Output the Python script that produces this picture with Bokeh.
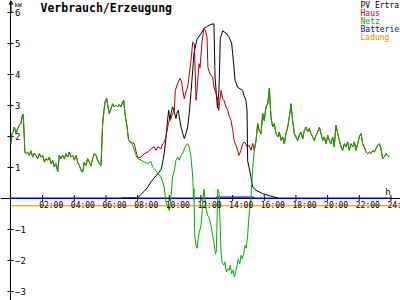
import math
from bokeh.plotting import figure
from bokeh.models import Range1d, FixedTicker, Label, Arrow, OpenHead
from bokeh.core.properties import value
from bokeh.embed import file_html
from bokeh.resources import INLINE

# ---------------- data (hours, kW) ----------------
night_am_t = [0.00,0.06,0.13,0.21,0.32,0.42,0.53,0.63,0.69,0.76,0.80,0.88,0.95,1.05,1.16,1.26,1.37,1.47,1.58,1.68,
              1.79,1.90,2.00,2.11,2.21,2.32,2.42,2.53,2.63,2.74,2.84,2.95,3.05,3.16,3.26,3.37,3.47,3.58,3.68,3.79,
              3.90,4.00,4.11,4.21,4.32,4.42,4.53,4.63,4.74,4.84,4.95,5.05,5.16,5.26,5.37,5.47,5.58,5.69,5.75,5.79,
              5.85,5.94,6.00,6.04,6.11,6.21,6.32,6.42,6.53,6.63,6.74,6.84,6.95,7.05,7.12,7.20,7.33,7.43,7.58]
night_am_v = [1.75,2.08,2.13,2.29,2.08,2.24,2.35,2.40,2.61,2.70,2.40,1.47,1.43,1.48,1.38,1.52,1.32,1.45,1.38,1.27,
              1.43,1.32,1.38,1.16,1.27,1.22,1.32,1.11,1.22,1.00,1.11,0.84,1.38,1.27,1.38,1.27,1.43,1.32,1.48,1.32,
              1.38,1.22,1.38,1.16,1.05,0.89,0.84,1.16,1.05,1.27,1.16,1.05,1.27,1.43,1.38,1.22,1.11,1.05,1.86,2.40,
              2.72,3.10,3.15,3.22,2.99,2.72,2.88,3.04,2.94,3.00,2.94,3.02,2.94,3.10,3.15,2.72,2.29,1.86,1.79]

netz_day_t = [7.69,7.79,7.90,8.00,8.21,8.42,8.64,8.84,8.95,9.05,9.27,9.48,9.68,9.79,9.90,10.00,10.06,10.11,10.21,10.32,
              10.42,10.53,10.63,10.74,10.85,10.95,11.05,11.16,11.26,11.37,11.48,11.54,11.56,11.60,11.69,11.75,11.83,11.90,12.00,12.06,
              12.11,12.19,12.32,12.43,12.53,12.63,12.74,12.85,12.91,12.97,13.06,13.14,13.27,13.33,13.44,13.52,13.60,13.69,13.79,13.85,
              13.94,14.02,14.11,14.19,14.28,14.36,14.45,14.53,14.61,14.70,14.78,14.86,14.95,15.02,15.08,15.16,15.27]
netz_day_v = [1.70,1.54,1.38,1.27,1.22,1.16,1.11,1.18,1.00,0.95,0.79,0.68,0.35,-0.13,-0.29,-0.40,-0.20,0.05,0.68,0.89,
              1.22,1.32,1.22,1.38,1.43,1.59,1.70,1.75,1.65,1.32,0.68,-0.07,0.30,-1.20,-1.53,-1.62,-1.30,-1.10,-0.88,-0.56,
              -0.13,0.28,-0.35,-0.56,-0.66,-0.88,-1.20,-1.53,-1.80,-1.74,0.28,0.20,-1.74,-2.06,-2.17,-2.06,-2.39,-2.28,-2.33,-2.17,
              -2.44,-2.33,-2.55,-2.39,-2.17,-1.96,-2.12,-1.85,-1.96,-1.79,-1.53,-1.62,-1.20,-0.66,-0.34,0.00,1.00]

haus_day_t = [7.69,7.79,7.90,8.00,8.21,8.42,8.64,8.84,9.05,9.16,9.27,9.48,9.58,9.68,9.79,9.90,9.94,10.00,10.11,10.21,
              10.32,10.38,10.53,10.68,10.78,10.85,10.95,11.05,11.16,11.24,11.37,11.43,11.48,11.58,11.64,11.69,11.79,11.88,11.94,12.06,
              12.19,12.28,12.38,12.44,12.57,12.74,12.82,12.95,13.06,13.12,13.27,13.37,13.46,13.58,13.69,13.77,13.90,14.01,14.09,14.21,
              14.32,14.40,14.53,14.64,14.78,14.91,15.04,15.16,15.27]
haus_day_v = [1.77,1.75,1.50,1.30,1.32,1.43,1.48,1.59,1.65,1.54,1.65,1.59,1.75,1.80,1.97,2.29,2.40,2.50,2.57,2.73,
              2.83,3.47,3.70,3.86,3.74,3.47,3.20,3.42,3.58,3.90,4.44,4.76,5.03,4.98,4.00,3.15,3.74,4.33,4.20,5.00,
              5.47,5.40,5.20,4.20,4.00,3.90,3.58,3.37,3.15,2.83,3.47,3.20,3.15,2.94,2.83,2.67,2.50,2.18,1.86,1.70,
              1.54,1.37,1.54,1.76,1.80,1.65,1.70,1.54,1.76]

night_pm_t = [15.37,15.48,15.58,15.68,15.79,15.90,16.00,16.11,16.22,16.32,16.42,16.53,16.63,16.74,16.85,16.95,17.06,17.16,17.26,17.37,
              17.48,17.58,17.69,17.79,17.90,18.00,18.11,18.21,18.32,18.43,18.53,18.64,18.74,18.84,18.95,19.06,19.16,19.27,19.37,19.48,
              19.58,19.69,19.79,19.90,20.01,20.11,20.21,20.32,20.42,20.53,20.64,20.74,20.85,20.95,21.06,21.16,21.27,21.37,21.48,21.59,
              21.69,21.79,21.90,22.00,22.11,22.22,22.32,22.43,22.53,22.64,22.74,22.85,22.95,23.06,23.16,23.27,23.37,23.48,23.58,23.69,
              23.79,23.90]
night_pm_v = [1.54,1.86,2.40,2.18,2.08,2.72,2.50,2.94,3.04,3.54,2.61,2.29,2.40,2.08,1.97,2.13,1.86,1.97,1.75,2.08,
              2.29,2.61,3.04,2.50,2.08,1.97,1.86,2.02,2.13,1.92,2.18,2.29,2.13,2.24,2.08,1.97,1.86,2.02,2.13,2.29,
              2.08,1.86,1.97,1.75,2.02,1.86,1.75,1.97,1.65,2.35,2.08,1.86,1.65,1.54,1.75,1.65,1.81,1.54,1.75,1.65,
              1.81,1.54,1.75,1.97,2.08,1.75,1.65,1.48,1.43,1.48,1.43,1.54,1.48,1.59,1.70,1.75,1.59,1.27,1.32,1.43,
              1.38,1.32]

pv_t = [6.95,8.00,8.21,8.42,8.64,8.84,9.05,9.27,9.48,9.58,9.68,9.79,9.90,9.96,10.04,10.11,10.21,10.32,10.42,10.48,
        10.57,10.63,10.74,10.85,10.95,11.05,11.16,11.26,11.37,11.43,11.56,11.75,12.00,12.19,12.44,12.63,12.82,12.89,13.04,13.14,
        13.22,13.37,13.58,13.77,13.94,14.00,14.09,14.15,14.32,14.64,14.72,14.84,14.91,14.95,15.16,15.27,15.48,15.90,16.42,16.87]
pv_v = [0.00,0.00,0.12,0.22,0.35,0.52,0.65,0.78,0.92,1.15,1.45,1.95,2.55,2.83,2.50,2.73,2.94,2.77,2.56,2.73,
        2.83,2.61,2.29,2.08,1.92,2.08,2.29,2.72,3.40,3.80,4.67,5.12,5.30,5.47,5.55,5.60,5.62,3.90,2.90,3.50,
        5.14,5.39,5.32,5.20,4.99,4.67,4.20,3.80,3.57,3.47,3.30,3.15,2.83,1.20,0.68,0.35,0.25,0.14,0.06,0.00]

batt_t = [0.0, 13.00, 13.01, 15.30, 15.31, 24.0]
batt_v = [0.0, 0.0, 0.03, 0.03, 0.0, 0.0]

ladung_t = [0.0, 12.0, 24.6]
ladung_v = [-0.25, -0.25, -0.25]

netz_t = night_am_t + netz_day_t + night_pm_t
netz_v = night_am_v + netz_day_v + night_pm_v
haus_t = night_am_t + haus_day_t + night_pm_t
haus_v = night_am_v + haus_day_v + night_pm_v

x_ticks = [2, 4, 6, 8, 10, 12, 14, 16, 18, 20, 22, 24]
x_tick_labels = ["02:00", "04:00", "06:00", "08:00", "10:00", "12:00",
                 "14:00", "16:00", "18:00", "20:00", "22:00", "24:00"]
y_ticks = [-3, -2, -1, 1, 2, 3, 4, 5, 6]

series_names = ["PV Ertra", "Haus", "Netz", "Batterie", "Ladung"]
series_colors = ["#000000", "#b00000", "#00b000", "#0000ff", "#ff8000"]

title_text = "Verbrauch/Erzeugung"
MONO = "DejaVu Sans Mono"

# ---------------- figure ----------------
p = figure(width=400, height=300, x_range=Range1d(-0.663, 24.605), y_range=Range1d(-3.306, 6.371),
           output_backend="svg", toolbar_location=None, min_border=0,
           x_axis_location="below", y_axis_location="right")
p.xgrid.visible = False
p.ygrid.visible = False
p.outline_line_color = None
p.background_fill_color = "white"
p.border_fill_color = "white"

# x axis line at y = 0
p.xaxis.fixed_location = 0
p.xaxis.ticker = FixedTicker(ticks=[])
p.xaxis.minor_tick_line_color = None
p.xaxis.axis_line_color = "black"
p.xaxis.level = "underlay"

# y axis at x = 0, labels on the right side
p.yaxis.fixed_location = 0
p.yaxis.ticker = FixedTicker(ticks=y_ticks)
p.yaxis.major_tick_in = 3
p.yaxis.major_tick_out = 3
p.yaxis.minor_tick_line_color = None
p.yaxis.major_label_standoff = 1
p.yaxis.major_label_text_font = MONO
p.yaxis.major_label_text_font_size = "9px"
p.yaxis.major_label_text_color = "black"
p.yaxis.level = "underlay"

p.add_layout(Arrow(end=OpenHead(size=4, line_width=1), x_start=0, y_start=6.0, x_end=0, y_end=6.36,
                   line_width=1, line_color="black"))

# series
p.line(ladung_t, ladung_v, line_color=series_colors[4], line_width=1.1)
p.line(batt_t, batt_v, line_color=series_colors[3], line_width=1.2)
p.line(pv_t, pv_v, line_color=series_colors[0], line_width=1)
p.line(haus_t, haus_v, line_color=series_colors[1], line_width=1)
p.line(netz_t, netz_v, line_color=series_colors[2], line_width=1)

# x ticks and tick labels
p.scatter(x=x_ticks, y=[0] * len(x_ticks), marker="dash", size=6, angle=math.pi / 2,
          line_color="black", line_width=1)
p.text(x=x_ticks, y=[0] * len(x_ticks), text=x_tick_labels, text_font=value(MONO),
       text_font_size="8px", text_align="left", text_baseline="top", x_offset=-3.5, y_offset=2.5,
       text_color="black")

# axis unit labels
p.text(x=[24], y=[0], text=["h"], text_font=value(MONO), text_font_size="9px",
       text_align="center", text_baseline="alphabetic", x_offset=-3, y_offset=-6, text_color="black")
p.add_layout(Label(x=14, y=300, x_units="screen", y_units="screen", text="kW",
                   text_font=MONO, text_font_size="6px", text_baseline="top", text_color="black"))

# title
p.add_layout(Label(x=40, y=299.6, x_units="screen", y_units="screen", text=title_text,
                   text_font=MONO, text_font_style="bold", text_font_size="11.5px",
                   text_baseline="top", text_color="black"))

# legend (coloured names)
for i, (name, col) in enumerate(zip(series_names, series_colors)):
    p.add_layout(Label(x=360, y=300 - 8 * i, x_units="screen", y_units="screen", text=name,
                       text_font=MONO, text_font_size="8px", text_baseline="top", text_color=col))

open("out.html", "w").write(file_html(p, INLINE))
